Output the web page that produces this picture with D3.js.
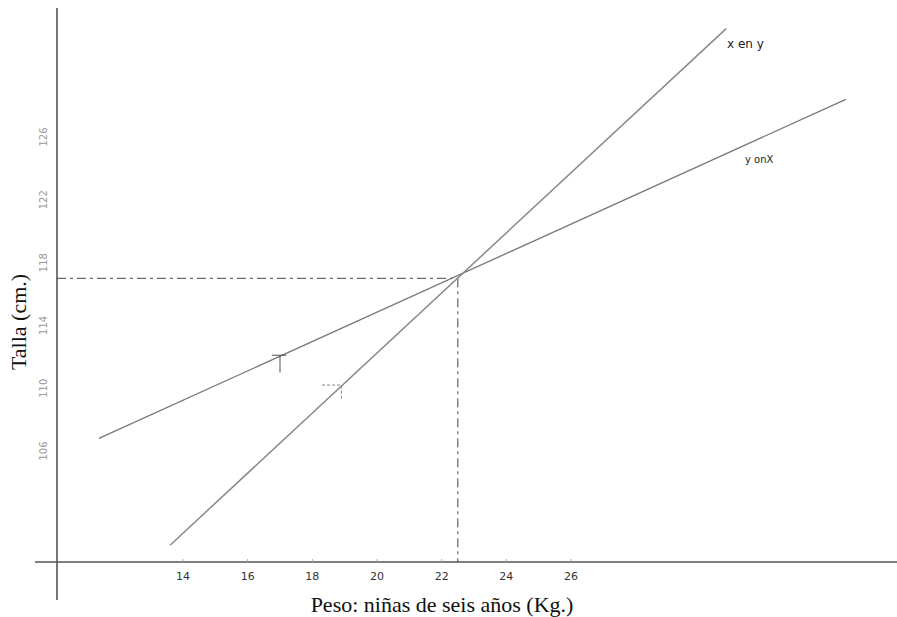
<!DOCTYPE html>
<html>
<head>
<meta charset="utf-8">
<script src="https://cdn.jsdelivr.net/npm/d3@7"></script>
<style>
  body { margin: 0; background: #fff; }
  svg { display: block; }
</style>
</head>
<body>
<svg id="chart" width="897" height="617"></svg>
<script>
// tick labels
const xTicks = [14, 16, 18, 20, 22, 24, 26];
const yTicks = [106, 110, 114, 118, 122, 126];

// the two regression lines (kg, cm) endpoints
const yOnX = [[11.4, 106.8], [34.5, 128.4]];
const xOnY = [[13.6, 100.0], [30.8, 132.9]];

// means where the lines cross
const meanX = 22.5;
const meanY = 117.0;

const svg = d3.select("#chart"),
  width = +svg.attr("width"),
  height = +svg.attr("height");

const x = d3.scaleLinear().domain([14, 26]).range([183, 571]);
const y = d3.scaleLinear().domain([106, 126]).range([451, 137]);

const axisX0 = 57, axisY0 = 562;

// axes as plain lines
svg.append("line")
  .attr("x1", 35).attr("x2", width)
  .attr("y1", axisY0).attr("y2", axisY0)
  .attr("stroke", "#555").attr("stroke-width", 1.3);
svg.append("line")
  .attr("x1", axisX0).attr("x2", axisX0)
  .attr("y1", 8).attr("y2", 600)
  .attr("stroke", "#555").attr("stroke-width", 1.6);

// x tick labels (handwritten)
svg.append("g").selectAll("text")
  .data(xTicks).enter().append("text")
  .attr("x", d => x(d))
  .attr("y", 580)
  .attr("text-anchor", "middle")
  .attr("font-family", "DejaVu Sans")
  .attr("font-size", 11)
  .attr("fill", "#333")
  .text(d => d);

// small tick marks on x axis
svg.append("g").selectAll("line")
  .data(xTicks).enter().append("line")
  .attr("x1", d => x(d)).attr("x2", d => x(d))
  .attr("y1", axisY0 - 3).attr("y2", axisY0)
  .attr("stroke", "#aaa");

// y tick labels, rotated
svg.append("g").selectAll("text")
  .data(yTicks).enter().append("text")
  .attr("transform", d => "translate(47," + y(d) + ") rotate(-90)")
  .attr("text-anchor", "middle")
  .attr("font-family", "DejaVu Sans")
  .attr("font-size", 10)
  .attr("fill", "#999")
  .text(d => d);

// dashed guides to the means
svg.append("line")
  .attr("x1", axisX0).attr("x2", x(meanX))
  .attr("y1", y(meanY)).attr("y2", y(meanY))
  .attr("stroke", "#444").attr("stroke-width", 1)
  .attr("stroke-dasharray", "9,4,3,4");
svg.append("line")
  .attr("x1", x(meanX)).attr("x2", x(meanX))
  .attr("y1", y(meanY)).attr("y2", axisY0)
  .attr("stroke", "#444").attr("stroke-width", 1)
  .attr("stroke-dasharray", "9,4,3,4");

// regression lines
const line = d3.line().x(d => x(d[0])).y(d => y(d[1]));
svg.append("path").datum(yOnX)
  .attr("d", line).attr("fill", "none")
  .attr("stroke", "#777").attr("stroke-width", 1.3);
svg.append("path").datum(xOnY)
  .attr("d", line).attr("fill", "none")
  .attr("stroke", "#888").attr("stroke-width", 1.5);

// little hand marks on the lines
svg.append("path")
  .attr("d", "M" + x(16.75) + "," + y(112.1) + "H" + x(17.2) +
    "M" + x(17.0) + "," + y(112.1) + "V" + y(111.0))
  .attr("fill", "none").attr("stroke", "#555");
svg.append("path")
  .attr("d", "M" + x(18.3) + "," + y(110.2) + "H" + x(18.9) + "V" + y(109.2))
  .attr("fill", "none").attr("stroke", "#888")
  .attr("stroke-dasharray", "3,2");

// line labels
svg.append("text")
  .attr("x", 727).attr("y", 48)
  .attr("font-family", "DejaVu Sans").attr("font-size", 12).attr("fill", "#222")
  .text("x en y");
svg.append("text")
  .attr("x", 745).attr("y", 163)
  .attr("font-family", "DejaVu Sans").attr("font-size", 10).attr("fill", "#222")
  .text("y onX");

// axis titles
svg.append("text")
  .attr("x", 442).attr("y", 612)
  .attr("text-anchor", "middle")
  .attr("font-family", "Liberation Serif").attr("font-size", 22).attr("fill", "#111")
  .text("Peso: niñas de seis años (Kg.)");
svg.append("text")
  .attr("transform", "translate(26,322) rotate(-90)")
  .attr("text-anchor", "middle")
  .attr("font-family", "Liberation Serif").attr("font-size", 22).attr("fill", "#111")
  .text("Talla (cm.)");
</script>
</body>
</html>
